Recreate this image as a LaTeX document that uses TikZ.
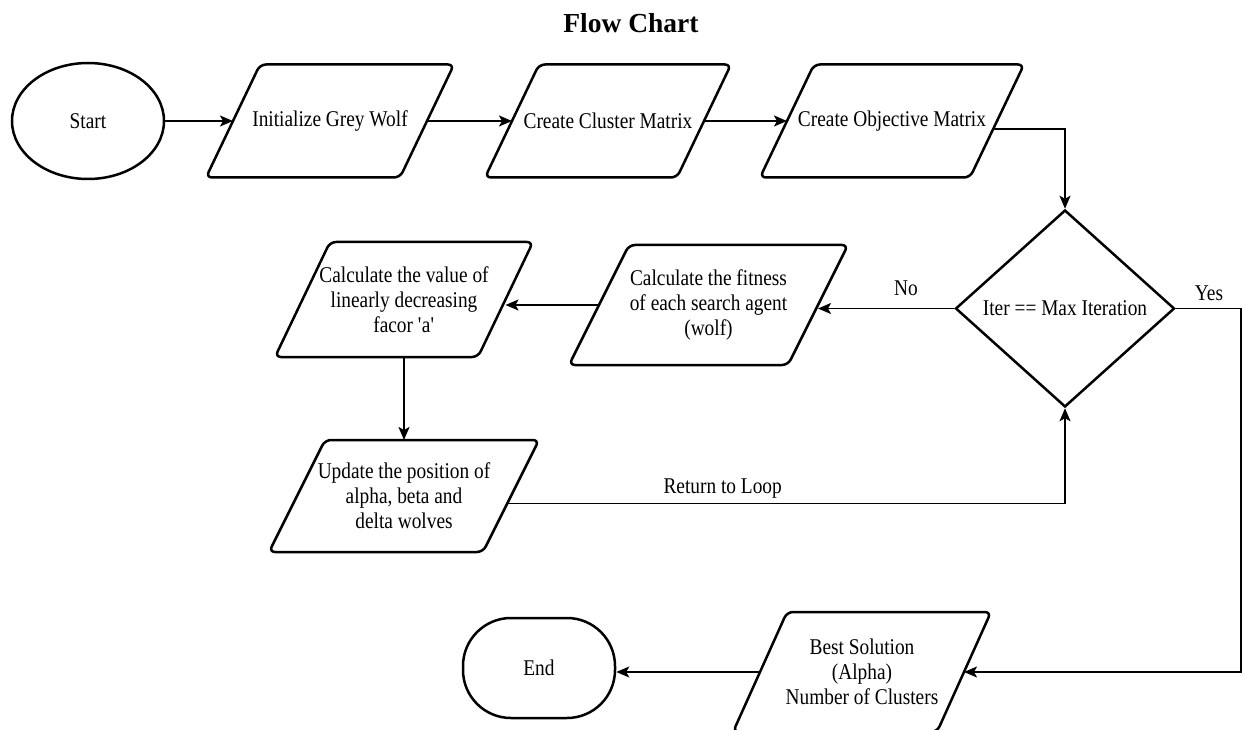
\documentclass[tikz,border=0pt]{standalone}
\usepackage{fontspec}
\setmainfont{Liberation Serif}[FakeStretch=0.86]
\newfontfamily\titlefont{Liberation Serif}
\usetikzlibrary{shapes.geometric,arrows.meta,calc}
\newcommand{\drawpara}[2]{%
  \draw[parashape] ($(#1.south west)+(-#2,0)$) -- ($(#1.south east)+(-#2,0)$) -- ($(#1.north east)+(#2,0)$) -- ($(#1.north west)+(#2,0)$) -- cycle;}
\begin{document}
\begin{tikzpicture}[x=1pt,y=-1pt,
  every node/.style={font=\fontsize{22.5}{25}\selectfont},
  box/.style={line width=2.5pt},
  parabox/.style={draw=none, rectangle, inner sep=0pt, outer sep=0pt, align=center, minimum height=#1},
  parashape/.style={draw, line width=2.5pt, rounded corners=6pt, line join=round},
  conn/.style={line width=1.8pt, -{Stealth[length=13pt,width=11pt,inset=3pt]}},
  ]
\useasboundingbox (0,0) rectangle (1245,730);
\node[font=\titlefont\bfseries\fontsize{27.5}{30}\selectfont] (title) at (631,23) {Flow Chart};

\node[ellipse, draw, box, minimum width=152pt, minimum height=116pt, inner sep=0pt] (start) at (88,121) {Start};
\node[parabox=113pt, minimum width=194pt] (p1) at (330,121) {Initialize Grey Wolf};
\node[parabox=113pt, minimum width=192pt] (p2) at (608,121) {Create Cluster Matrix};
\node[parabox=113pt, minimum width=210pt] (p3) at (892,121) {Create Objective Matrix};
\node[diamond, draw, box, minimum width=219pt, minimum height=197pt, inner sep=0pt] (dec) at (1065,308.5) {};
\node (dect) at (dec.center) {Iter == Max Iteration};
\node[parabox=120pt, minimum width=219pt] (p4) at (708.5,305) {Calculate the fitness\\of each search agent\\(wolf)};
\node[parabox=115pt, minimum width=203pt] (p5) at (404,299.5) {Calculate the value of\\linearly decreasing\\facor \textquotesingle a\textquotesingle};
\node[parabox=112pt, minimum width=214pt] (p6) at (404,496) {Update the position of\\alpha, beta and\\delta wolves};
\node[parabox=120pt, minimum width=204pt] (best) at (862,672) {Best Solution\\(Alpha)\\Number of Clusters};
\node[draw, box, rectangle, rounded corners=48pt, minimum width=152pt, minimum height=100pt] (end) at (539,668) {End};

\drawpara{p1}{27}
\drawpara{p2}{27}
\drawpara{p3}{27}
\drawpara{p4}{30}
\drawpara{p5}{27.5}
\drawpara{p6}{28}
\drawpara{best}{27}

\node (no) at (906,288) {No};
\node (yes) at (1209,293) {Yes};
\coordinate (ycorner) at (1241,308.5);

\draw[conn] (start.east) -- (p1.west);
\draw[conn] (p1.east) -- (p2.west);
\draw[conn] (p2.east) -- (p3.west);
\draw[conn] ([xshift=-3.5pt,yshift=-8pt]p3.east) -| (dec.north);
\draw[conn] (dec.west) -- (dec.west -| p4.east);
\draw[conn] (p4.west) -- (p4.west -| p5.east);
\draw[conn] (p5.south) -- (p6.north);
\draw[conn] ([xshift=-3.5pt,yshift=-7.5pt]p6.east) -| node[pos=0.193, above=1pt] {Return to Loop} (dec.south);
\draw[conn] (dec.east) -- (ycorner) |- (best.east);
\draw[conn] (best.west) -- (best.west -| end.east);
\end{tikzpicture}
\end{document}
